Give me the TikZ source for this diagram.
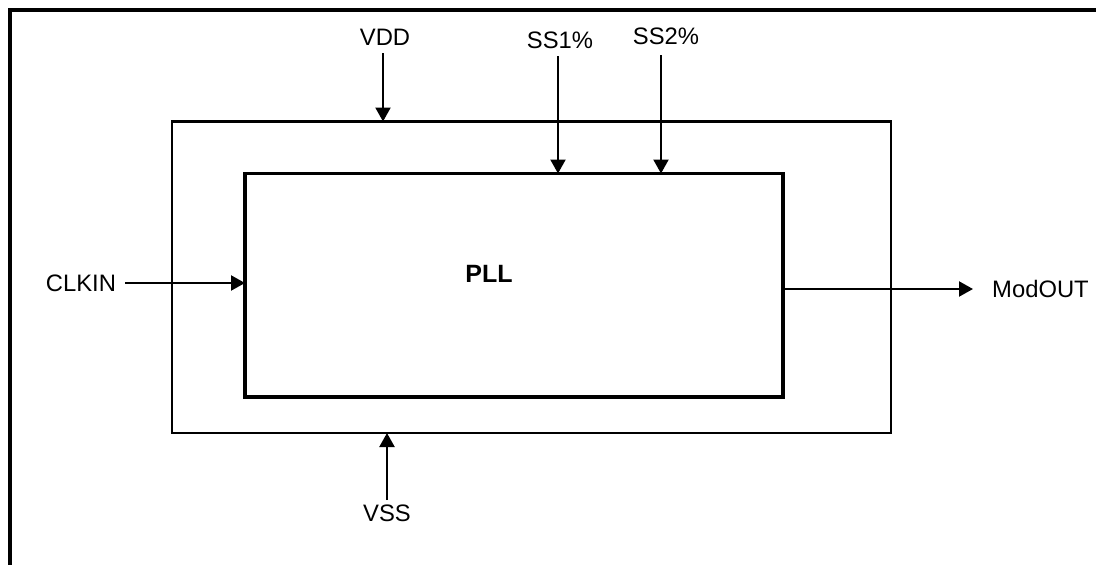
\documentclass[tikz,border=0pt]{standalone}
\usepackage{fontspec}
\setmainfont{Liberation Sans}
\usetikzlibrary{arrows.meta}
\begin{document}
\begin{tikzpicture}[x=1pt,y=-1pt,
  lbl/.style={font=\fontsize{23.8}{28}\selectfont, inner sep=0pt},
  arr/.style={line width=2.2pt, -{Triangle[length=14pt,width=15pt]}},
  box/.style={draw, inner sep=0pt, outer sep=0pt, anchor=north west}]
\useasboundingbox (0,0) rectangle (1096,565);
\draw[line width=4pt] (9.5,565) -- (9.5,9.5) -- (1096,9.5);
\node[box, line width=2.8pt, minimum width=719pt, minimum height=311.5pt] (outer) at (172,121.5) {};
\node[box, line width=3.5pt, minimum width=538pt, minimum height=223.5pt] (inner) at (245,173.5) {};
\node[lbl, font=\fontsize{25}{30}\selectfont\bfseries] (pll) at (489,274) {PLL};
\node[lbl] (vdd) at (385,37) {VDD};
\node[lbl] (ss1) at (560,40) {SS1\%};
\node[lbl] (ss2) at (666,36) {SS2\%};
\node[lbl] (clkin) at (81,283) {CLKIN};
\node[lbl] (modout) at (1040.5,289) {ModOUT};
\node[lbl] (vss) at (387,513) {VSS};
\coordinate (vddstart) at (383,53);
\coordinate (ss1start) at (558,56);
\coordinate (ss2start) at (661,55);
\coordinate (clkstart) at (125,283);
\coordinate (modend) at (973,289);
\coordinate (vssstart) at (387,500);
\draw[arr] (vddstart) -- (vddstart |- outer.north);
\draw[arr] (ss1start) -- (ss1start |- inner.north);
\draw[arr] (ss2start) -- (ss2start |- inner.north);
\draw[arr] (clkstart) -- (clkstart -| inner.west);
\draw[arr] (modend -| inner.east) -- (modend);
\draw[arr] (vssstart) -- (vssstart |- outer.south);
\end{tikzpicture}
\end{document}
